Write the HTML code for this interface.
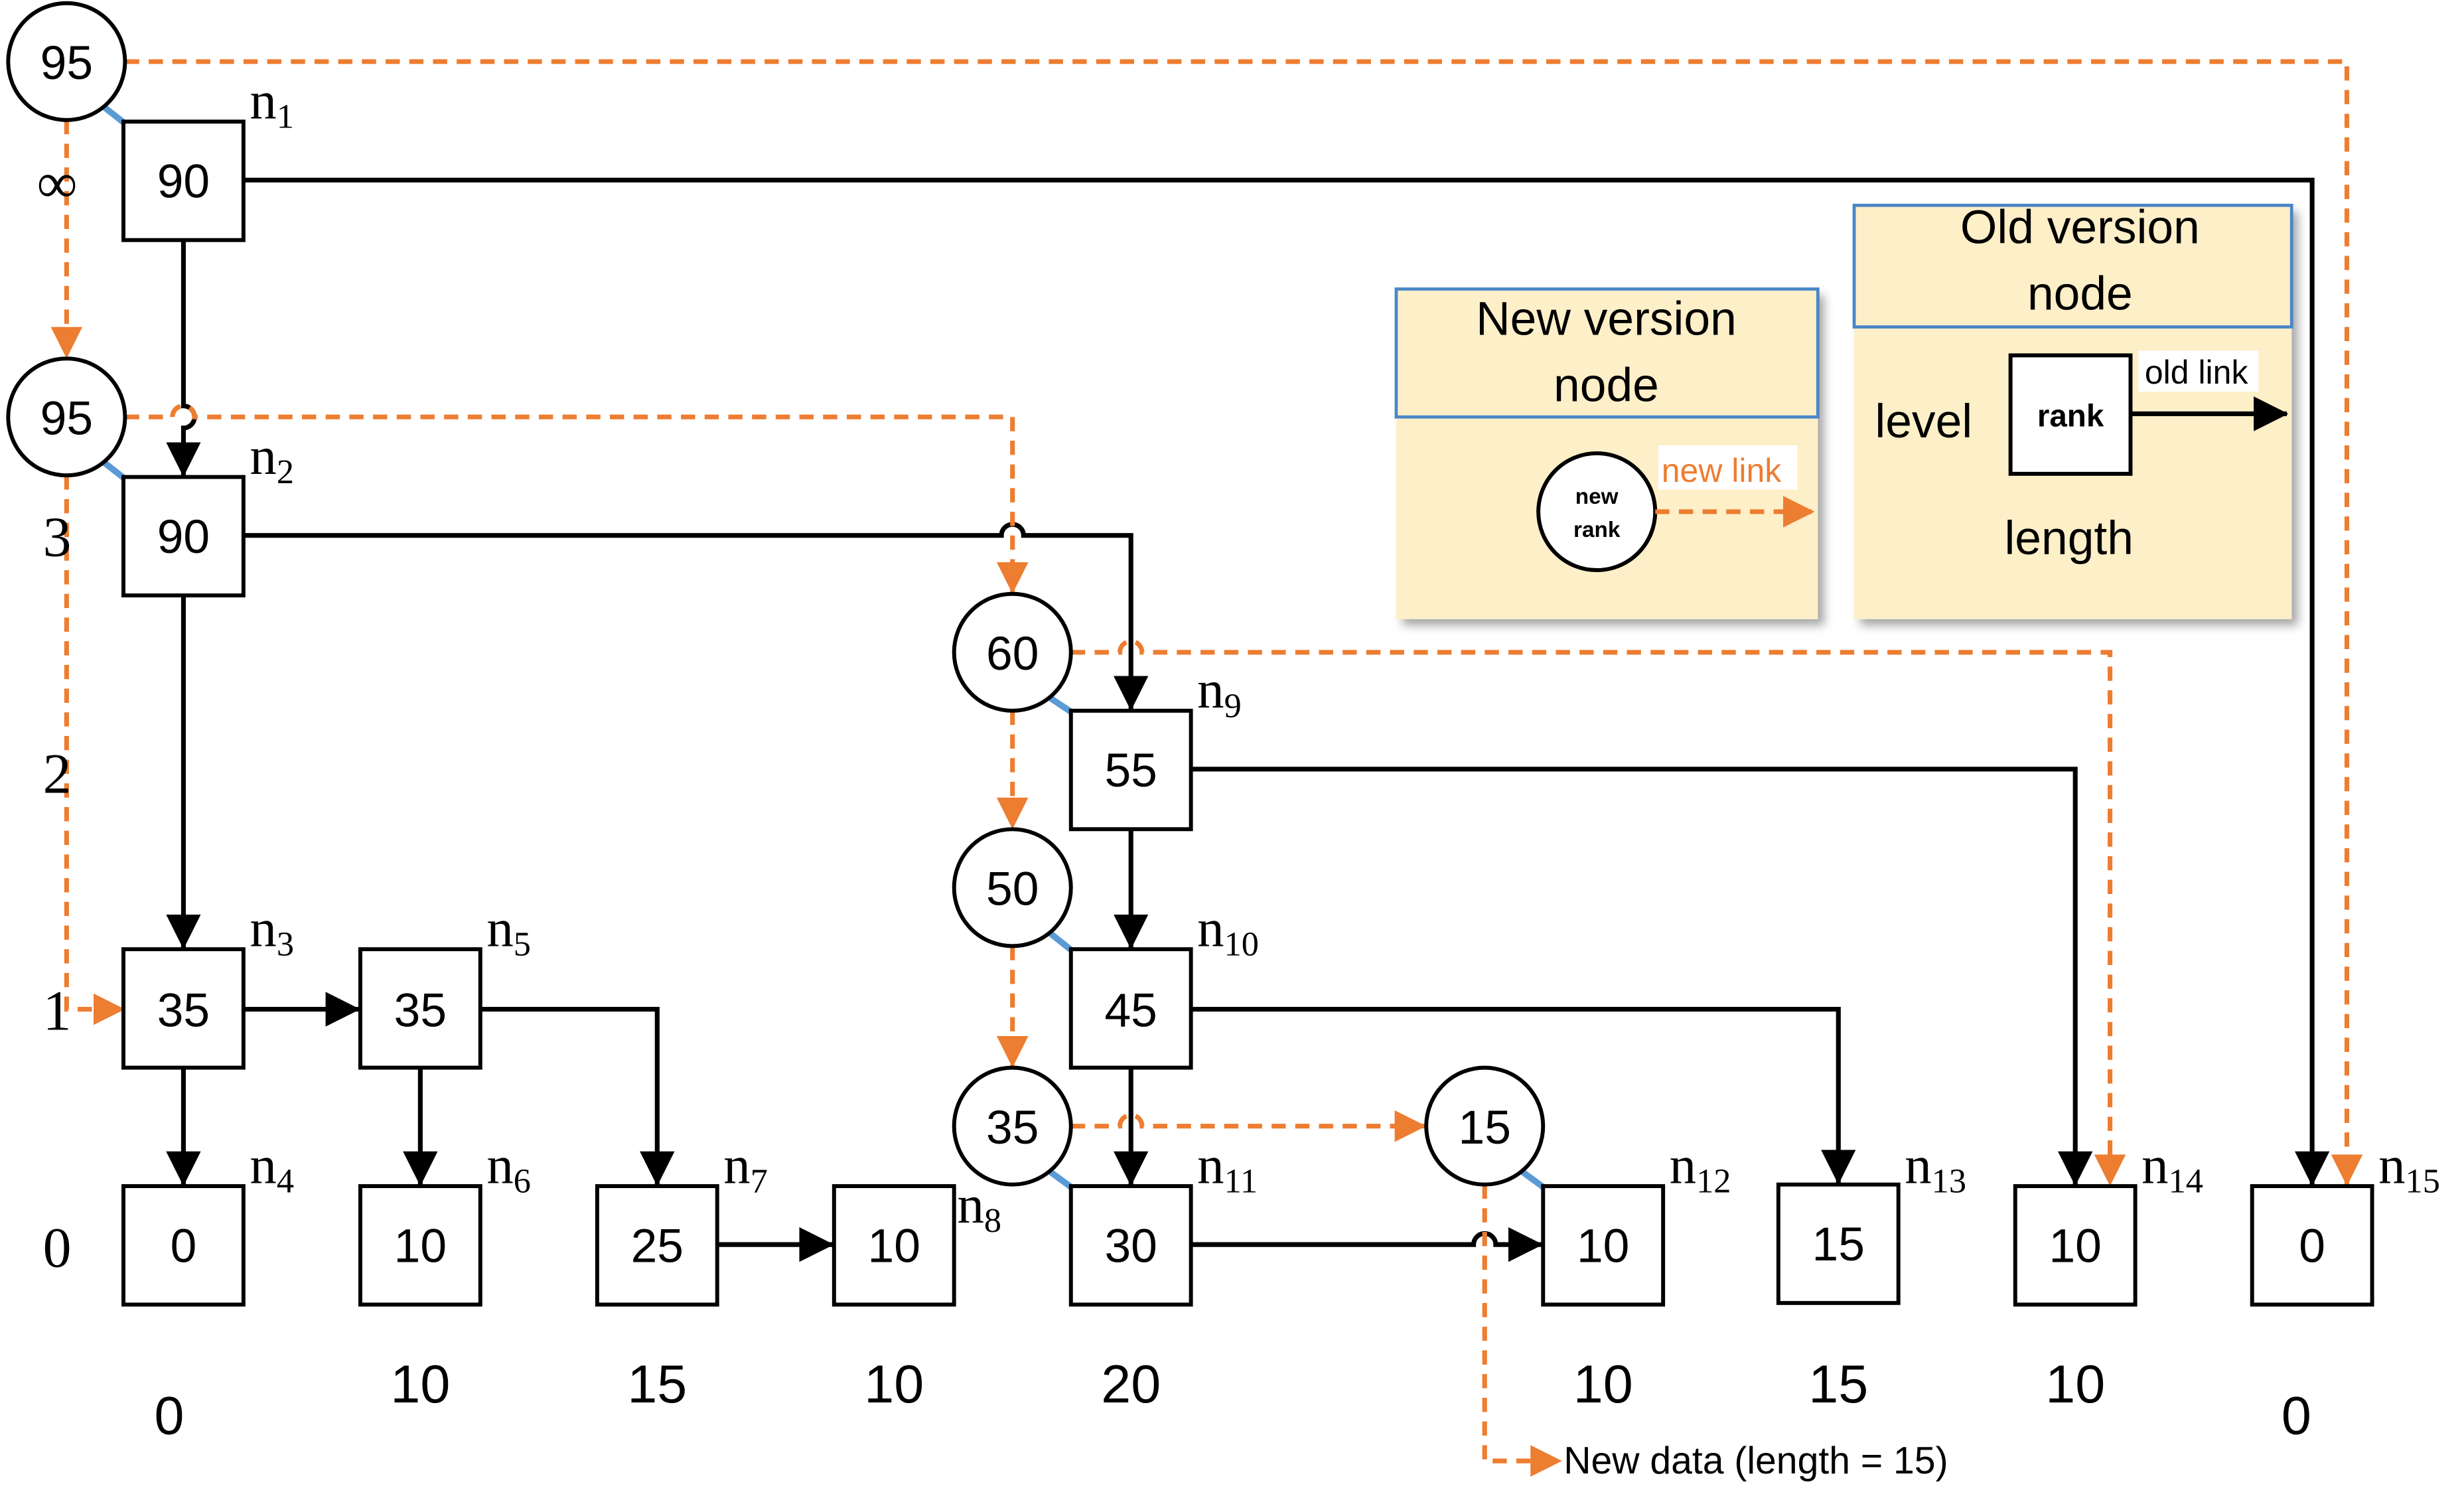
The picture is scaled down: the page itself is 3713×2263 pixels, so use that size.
<!DOCTYPE html>
<html><head><meta charset="utf-8"><style>
html,body{margin:0;padding:0;background:#fff}
svg{display:block}
text{font-family:"Liberation Sans",sans-serif}
.s{font-family:"Liberation Serif",serif}
</style></head><body>
<svg width="3713" height="2263" viewBox="0 0 1560 951" xmlns="http://www.w3.org/2000/svg">
<defs>
<marker id="ab" markerWidth="22" markerHeight="22" refX="21" refY="11" orient="auto" markerUnits="userSpaceOnUse" viewBox="0 0 22 22"><path d="M0,0 L22,11 L0,22z" fill="#000"/></marker>
<marker id="ao" markerWidth="20" markerHeight="20" refX="19" refY="10" orient="auto" markerUnits="userSpaceOnUse" viewBox="0 0 20 20"><path d="M0,0 L20,10 L0,20z" fill="#ed7d31"/></marker>
<filter id="sh" x="-10%" y="-10%" width="130%" height="130%"><feDropShadow dx="4" dy="4" stdDeviation="3" flood-color="#000" flood-opacity="0.35"/></filter>
</defs>
<style>
.k{stroke:#000;stroke-width:3;fill:none}
.ka{stroke:#000;stroke-width:3;fill:none;marker-end:url(#ab)}
.o{stroke:#ed7d31;stroke-width:3;fill:none;stroke-dasharray:9,6}
.oa{stroke:#ed7d31;stroke-width:3;fill:none;stroke-dasharray:9,6;marker-end:url(#ao)}
.b{stroke:#5b9bd5;stroke-width:4}
</style>
<rect x="884" y="183" width="267" height="209" fill="#fdefc8" filter="url(#sh)"/>
<rect x="884" y="183" width="267" height="81" fill="none" stroke="#4a86c8" stroke-width="2"/>
<text x="1017" y="212" font-size="30" text-anchor="middle">New version</text>
<text x="1017" y="254" font-size="30" text-anchor="middle">node</text>
<circle cx="1011" cy="324" r="37" fill="#fff" stroke="#000" stroke-width="2.5"/>
<text x="1011" y="319" font-size="14" font-weight="bold" text-anchor="middle">new</text>
<text x="1011" y="340" font-size="14" font-weight="bold" text-anchor="middle">rank</text>
<rect x="1050" y="282" width="88" height="28" fill="#fff"/>
<text x="1052" y="305" font-size="21" fill="#ed7d31">new link</text>
<line x1="1048" y1="324" x2="1148" y2="324" class="oa"/>
<rect x="1174" y="130" width="277" height="262" fill="#fdefc8" filter="url(#sh)"/>
<rect x="1174" y="130" width="277" height="77" fill="none" stroke="#4a86c8" stroke-width="2"/>
<text x="1317" y="154" font-size="30" text-anchor="middle">Old version</text>
<text x="1317" y="196" font-size="30" text-anchor="middle">node</text>
<text x="1218" y="277" font-size="30" text-anchor="middle">level</text>
<rect x="1273" y="225" width="76" height="75" fill="#fff" stroke="#000" stroke-width="2.5"/>
<text x="1311" y="270" font-size="20" font-weight="bold" text-anchor="middle">rank</text>
<rect x="1354" y="222" width="76" height="26" fill="#fff"/>
<text x="1358" y="243" font-size="21">old link</text>
<line x1="1349" y1="262" x2="1448" y2="262" class="ka"/>
<text x="1310" y="351" font-size="30" text-anchor="middle">length</text>

<path class="ka" d="M154,114 H1464 V750"/>
<path class="ka" d="M116,152 V257 a7,7 0 0 1 0,14 V301"/>
<path class="ka" d="M154,339 H634 a7,7 0 0 1 14,0 H716 V449"/>
<line class="ka" x1="116" y1="377" x2="116" y2="600"/>
<line class="ka" x1="154" y1="639" x2="227" y2="639"/>
<line class="ka" x1="116" y1="677" x2="116" y2="750"/>
<line class="ka" x1="266" y1="677" x2="266" y2="750"/>
<path class="ka" d="M304,639 H416 V750"/>
<line class="ka" x1="454" y1="788" x2="527" y2="788"/>
<line class="ka" x1="716" y1="525" x2="716" y2="600"/>
<path class="ka" d="M754,487 H1314 V750"/>
<path class="ka" d="M754,639 H1164 V749"/>
<line class="ka" x1="716" y1="677" x2="716" y2="750"/>
<path class="ka" d="M754,788 H933 a7,7 0 0 1 14,0 H976"/>

<path class="oa" d="M79,39 H1486 V750"/>
<line class="oa" x1="42" y1="76" x2="42" y2="226"/>
<path class="oa" d="M79,264 H109 a7,7 0 0 1 14,0 H641 V375"/>
<path class="oa" d="M42,301 V639 H78"/>
<path class="oa" d="M678,413 H709 a7,7 0 0 1 14,0 H1336 V750"/>
<line class="oa" x1="641" y1="450" x2="641" y2="524"/>
<line class="oa" x1="641" y1="599" x2="641" y2="675"/>
<path class="oa" d="M678,713 H709 a7,7 0 0 1 14,0 H902"/>
<path class="oa" d="M940,750 V925 H988"/>
<text x="990" y="933" font-size="24">New data (length = 15)</text>

<line class="b" x1="66" y1="68" x2="80" y2="79"/>
<line class="b" x1="66" y1="293" x2="80" y2="304"/>
<line class="b" x1="665" y1="442" x2="680" y2="452"/>
<line class="b" x1="665" y1="591" x2="680" y2="603"/>
<line class="b" x1="665" y1="742" x2="680" y2="753"/>
<line class="b" x1="964" y1="742" x2="979" y2="753"/>

<g fill="#fff" stroke="#000" stroke-width="2.5">
<rect x="78" y="77" width="76" height="75"/>
<rect x="78" y="302" width="76" height="75"/>
<rect x="78" y="601" width="76" height="75"/>
<rect x="78" y="751" width="76" height="75"/>
<rect x="228" y="601" width="76" height="75"/>
<rect x="228" y="751" width="76" height="75"/>
<rect x="378" y="751" width="76" height="75"/>
<rect x="528" y="751" width="76" height="75"/>
<rect x="678" y="450" width="76" height="75"/>
<rect x="678" y="601" width="76" height="75"/>
<rect x="678" y="751" width="76" height="75"/>
<rect x="977" y="751" width="76" height="75"/>
<rect x="1126" y="750" width="76" height="75"/>
<rect x="1276" y="751" width="76" height="75"/>
<rect x="1426" y="751" width="76" height="75"/>
<circle cx="42" cy="39" r="37"/>
<circle cx="42" cy="264" r="37"/>
<circle cx="641" cy="413" r="37"/>
<circle cx="641" cy="562" r="37"/>
<circle cx="641" cy="713" r="37"/>
<circle cx="940" cy="713" r="37"/>
</g>
<g font-size="30" text-anchor="middle">
<text x="116" y="125">90</text><text x="116" y="350">90</text><text x="116" y="650">35</text>
<text x="116" y="799">0</text><text x="266" y="650">35</text><text x="266" y="799">10</text>
<text x="416" y="799">25</text><text x="566" y="799">10</text><text x="716" y="498">55</text>
<text x="716" y="650">45</text><text x="716" y="799">30</text><text x="1015" y="799">10</text>
<text x="1164" y="798">15</text><text x="1314" y="799">10</text><text x="1464" y="799">0</text>
<text x="42" y="50">95</text><text x="42" y="275">95</text><text x="641" y="424">60</text>
<text x="641" y="573">50</text><text x="641" y="724">35</text><text x="940" y="724">15</text>
</g>
<g class="s" font-size="34">
<text x="158" y="75" class="s">n<tspan font-size="22" dy="6">1</tspan></text>
<text x="158" y="300" class="s">n<tspan font-size="22" dy="6">2</tspan></text>
<text x="158" y="599" class="s">n<tspan font-size="22" dy="6">3</tspan></text>
<text x="158" y="749" class="s">n<tspan font-size="22" dy="6">4</tspan></text>
<text x="308" y="599" class="s">n<tspan font-size="22" dy="6">5</tspan></text>
<text x="308" y="749" class="s">n<tspan font-size="22" dy="6">6</tspan></text>
<text x="458" y="749" class="s">n<tspan font-size="22" dy="6">7</tspan></text>
<text x="606" y="774" class="s">n<tspan font-size="22" dy="6">8</tspan></text>
<text x="758" y="448" class="s">n<tspan font-size="22" dy="6">9</tspan></text>
<text x="758" y="599" class="s">n<tspan font-size="22" dy="6">10</tspan></text>
<text x="758" y="749" class="s">n<tspan font-size="22" dy="6">11</tspan></text>
<text x="1057" y="749" class="s">n<tspan font-size="22" dy="6">12</tspan></text>
<text x="1206" y="749" class="s">n<tspan font-size="22" dy="6">13</tspan></text>
<text x="1356" y="749" class="s">n<tspan font-size="22" dy="6">14</tspan></text>
<text x="1506" y="749" class="s">n<tspan font-size="22" dy="6">15</tspan></text>
</g>
<g class="s" font-size="36" text-anchor="middle">
<text x="36" y="128" class="s">∞</text><text x="36" y="352" class="s">3</text>
<text x="36" y="502" class="s">2</text><text x="36" y="652" class="s">1</text>
<text x="36" y="802" class="s">0</text>
</g>
<g font-size="34" text-anchor="middle">
<text x="107" y="908">0</text><text x="266" y="888">10</text><text x="416" y="888">15</text>
<text x="566" y="888">10</text><text x="716" y="888">20</text><text x="1015" y="888">10</text>
<text x="1164" y="888">15</text><text x="1314" y="888">10</text><text x="1454" y="908">0</text>
</g>
</svg>
</body></html>
